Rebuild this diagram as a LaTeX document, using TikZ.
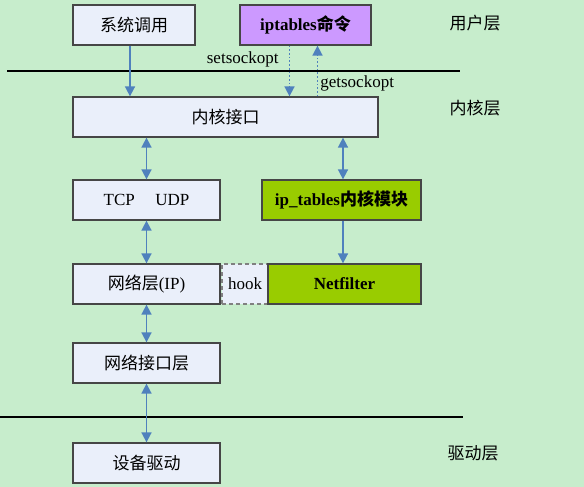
\documentclass[tikz,border=0pt]{standalone}
\usepackage{fontspec}
\setmainfont{Liberation Serif}
\newfontfamily\cjk{Noto Sans CJK SC}
\definecolor{bggreen}{RGB}{199,237,204}
\definecolor{boxfill}{RGB}{234,239,250}
\definecolor{cmdpurple}{RGB}{204,153,255}
\definecolor{modgreen}{RGB}{153,204,0}
\definecolor{arrblue}{RGB}{79,129,189}
\definecolor{boxline}{RGB}{70,70,70}
\usetikzlibrary{arrows.meta,positioning,calc}

\begin{document}
\begin{tikzpicture}[x=1pt, y=-1pt,
      arr/.style={-{Triangle[width=10pt,length=10pt]}, line width=1.7pt, arrblue},
      darr/.style={{Triangle[width=10pt,length=10pt]}-{Triangle[width=10pt,length=10pt]}, line width=1.7pt, arrblue},
      dotarr/.style={arr, dotted},
      blk/.style={draw=boxline, fill=boxfill, line width=1.3pt, minimum height=40pt,
                  inner sep=0pt, font=\fontsize{17}{20}\selectfont},
      layer/.style={font=\cjk\fontsize{17}{20}\selectfont},
      lab/.style={font=\fontsize{17}{20}\selectfont, text=black, inner sep=2pt}
    ]
    \fill[bggreen] (0,0) rectangle (584,487);
    \useasboundingbox (0,0) rectangle (584,487);
    % user space
    \node[blk, minimum width=122pt] (sys) at (134,25) {\cjk 系统调用};
    \node[blk, minimum width=131pt, fill=cmdpurple] (ipt) at (305.5,25) {\textbf{iptables{\cjk 命令}}};
    % kernel
    \node[blk, minimum width=305pt] (kif) at (225.5,117) {\cjk 内核接口};
    \node[blk, minimum width=147pt] (tcp) at (146.5,200) {TCP\hspace{1.2em}UDP};
    \node[blk, minimum width=159pt, fill=modgreen] (ipm) at (341.5,200) {\textbf{ip\_tables{\cjk 内核模块}}};
    \node[blk, minimum width=147pt] (net) at (146.5,284) {{\cjk 网络层}(IP)};
    \node[blk, minimum width=46pt, draw=gray, dash pattern=on 4pt off 3pt] (hook) at (245,284) {hook};
    \node[blk, minimum width=153pt, fill=modgreen] (nf) at (344.5,284) {\textbf{Netfilter}};
    \node[blk, minimum width=147pt] (nic) at (146.5,363) {\cjk 网络接口层};
    % driver
    \node[blk, minimum width=147pt] (drv) at (146.5,463) {\cjk 设备驱动};
    % layer labels and separators
    \node[layer] (ul) at (475,23) {用户层};
    \node[layer] (kl) at (475,108) {内核层};
    \node[layer] (dl) at (473,453) {驱动层};
    \draw[line width=1.8pt] (7,71) -- (460,71);
    \draw[line width=1.8pt] (0,417) -- (463,417);
    % connectors
    \draw[arr] ([xshift=-4pt]sys.south) -- ([xshift=-4pt]sys.south |- kif.north);
    \draw[dotarr] ([xshift=-16pt]ipt.south) -- node[lab, left, pos=0.27, xshift=-8pt] {setsockopt} ([xshift=-16pt]ipt.south |- kif.north);
    \draw[dotarr] ([xshift=12pt]ipt.south |- kif.north) -- node[lab, right, pos=0.25] {getsockopt} ([xshift=12pt]ipt.south);
    \draw[darr] (tcp.north |- kif.south) -- (tcp.north);
    \draw[darr] ([xshift=1.5pt]ipm.north |- kif.south) -- ([xshift=1.5pt]ipm.north);
    \draw[arr] ([xshift=1.5pt]ipm.south) -- ([xshift=1.5pt]ipm.south |- nf.north);
    \draw[darr] (tcp) -- (net);
    \draw[darr] (net) -- (nic);
    \draw[darr] (nic) -- (drv);
  \end{tikzpicture}
\end{document}
